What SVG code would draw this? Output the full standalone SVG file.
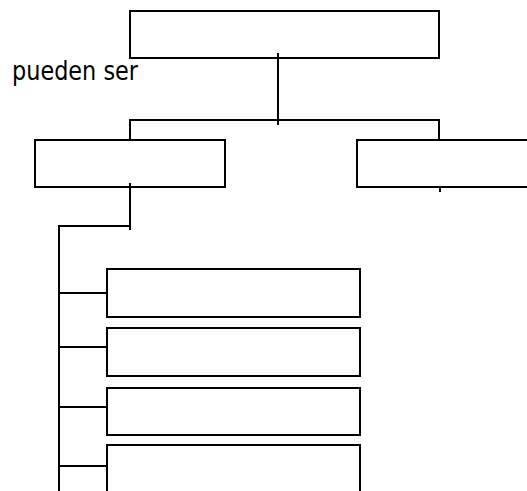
<svg xmlns="http://www.w3.org/2000/svg" width="527" height="491" viewBox="0 0 527 491">
<style>
.box{fill:#fff;stroke:#000;stroke-width:2}
.ln{fill:none;stroke:#000;stroke-width:2}
.t{font-family:"DejaVu Sans",Verdana,sans-serif;font-size:26px;fill:#000}
</style>
<rect width="527" height="491" fill="#fff"/>
<g id="n-top"><rect class="box" x="130" y="11" width="309" height="47"/></g>
<g id="label"><text class="t" x="12" y="80" textLength="126" lengthAdjust="spacingAndGlyphs">pueden ser</text></g>
<g id="n-left"><rect class="box" x="35" y="140" width="190" height="47"/></g>
<g id="n-right"><rect class="box" x="357" y="140" width="180" height="47"/></g>
<g id="n-a"><rect class="box" x="107" y="269" width="253" height="48"/></g>
<g id="n-b"><rect class="box" x="107" y="328" width="253" height="48"/></g>
<g id="n-c"><rect class="box" x="107" y="388" width="253" height="47"/></g>
<g id="n-d"><rect class="box" x="107" y="445" width="253" height="60"/></g>
<g id="connectors">
<line class="ln" x1="278" y1="53" x2="278" y2="125"/>
<polyline class="ln" points="130,139 130,120 439,120 439,139"/>
<line class="ln" x1="130" y1="183" x2="130" y2="230"/>
<line class="ln" x1="440" y1="187" x2="440" y2="192"/>
<polyline class="ln" points="130,226 59,226 59,491"/>
<line class="ln" x1="59" y1="293" x2="107" y2="293"/>
<line class="ln" x1="59" y1="347" x2="107" y2="347"/>
<line class="ln" x1="59" y1="407" x2="107" y2="407"/>
<line class="ln" x1="59" y1="466" x2="107" y2="466"/>
</g>
</svg>
